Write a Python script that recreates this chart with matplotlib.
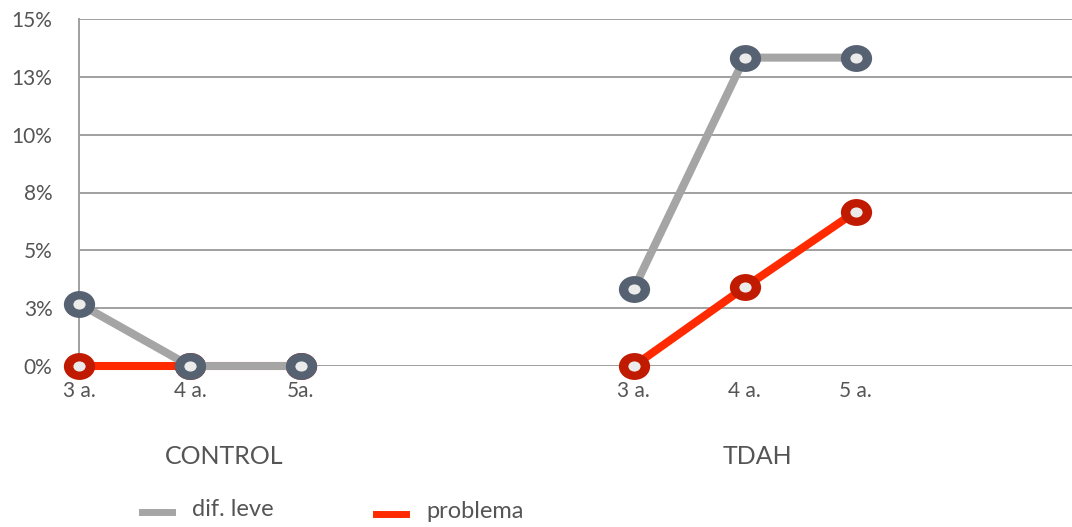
import numpy as np
import matplotlib
matplotlib.use("Agg")
import matplotlib.pyplot as plt
from matplotlib.path import Path

plt.rcParams['font.family'] = ['Lato', 'DejaVu Sans']

# age labels per group
ages_control = ["3 a.", "4 a.", "5a."]
ages_tdah = ["3 a.", "4 a.", "5 a."]
groups = ["CONTROL", "TDAH"]

# percentages per group
leve_control = [2.7, 0.0, 0.0]
problema_control = [0.0, 0.0, 0.0]
leve_tdah = [3.33, 13.33, 13.33]
problema_tdah = [0.0, 3.4, 6.67]

yticks = [0, 2.5, 5, 7.5, 10, 12.5, 15]

txt = "#555555"
grey = "#a5a5a5"
red = "#ff2a00"
ring_grey = "#566271"
ring_red = "#c01a00"
face = "#ebebeb"

# slightly flattened ring markers
circ = Path.unit_circle()
oval_outer = Path(circ.vertices * [1.0, 0.86], circ.codes)
oval_inner = Path(circ.vertices * [1.0, 0.83], circ.codes)

fig = plt.figure(figsize=(10.72, 5.27), dpi=100)
ax = fig.add_axes([79/1072, 1 - 366/527, 1 - 79/1072, (366 - 19)/527])

xc = np.array([0, 1, 2])
xt = np.array([5, 6, 7])

def draw(x, y, lc, ec, z):
    ax.plot(x, y, color=lc, lw=5.8, solid_capstyle='butt', zorder=z, clip_on=False)
    ax.plot(x, y, ls='none', marker=oval_outer, ms=22.5, mfc=ec, mew=0,
            zorder=z + 1, clip_on=False)
    ax.plot(x, y, ls='none', marker=oval_inner, ms=8.8, mfc=face, mew=0,
            zorder=z + 2, clip_on=False)

# problema below dif. leve
draw(xc, problema_control, red, ring_red, 3)
draw(xt, problema_tdah, red, ring_red, 3)
draw(xc, leve_control, grey, ring_grey, 6)
draw(xt, leve_tdah, grey, ring_grey, 6)

ax.set_xlim(0, 8.95)
ax.set_ylim(0, 15)
ax.set_yticks(yticks)
ax.set_yticklabels([f"{v:.0f}%" for v in np.round(np.array(yticks) + 1e-9)],
                   fontsize=15, color=txt)
ax.tick_params(axis='y', length=0, pad=19)
ax.set_xticks(list(xc) + list(xt))
ax.set_xticklabels(ages_control + ages_tdah, fontsize=15, color=txt)
ax.tick_params(axis='x', length=0, pad=11)

ax.grid(axis='y', color='#a0a0a0', lw=1.4)
ax.set_axisbelow(True)
for s in ['top', 'right', 'bottom']:
    ax.spines[s].set_visible(False)
ax.spines['left'].set_color('#a0a0a0')
ax.spines['left'].set_linewidth(1.4)

# group names under the age labels
fig.text(224/1072, 1 - 457/527, groups[0], fontsize=18, color=txt, ha='center', va='center')
fig.text(757/1072, 1 - 457/527, groups[1], fontsize=18, color=txt, ha='center', va='center')

# legend
fig.lines.append(plt.Line2D([142/1072, 172/1072], [1 - 512/527] * 2, color=grey, lw=5,
                            transform=fig.transFigure))
fig.text(192/1072, 1 - 509/527, "dif. leve", fontsize=17, color=txt, va='center')
fig.lines.append(plt.Line2D([376/1072, 406/1072], [1 - 514/527] * 2, color=red, lw=5,
                            transform=fig.transFigure))
fig.text(426/1072, 1 - 512/527, "problema", fontsize=17, color=txt, va='center')

fig.savefig("out.png", dpi=100)
